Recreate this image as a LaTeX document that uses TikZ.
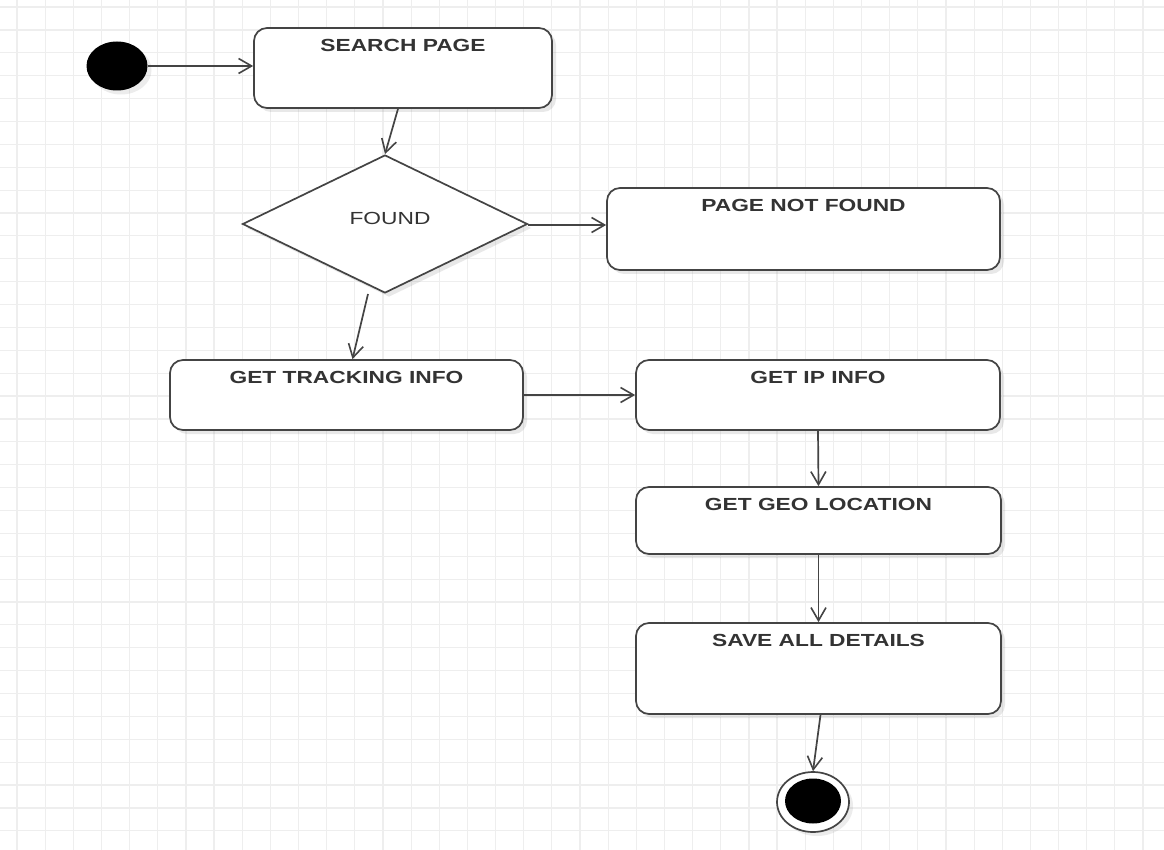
\documentclass[tikz,border=0pt]{standalone}
\usepackage{fontspec}
\newfontfamily\lbfont[FakeStretch=1.3]{Liberation Sans}
\usetikzlibrary{shapes.geometric,arrows.meta,shadows}
\definecolor{gridc}{HTML}{EEEEEE}
\definecolor{linec}{HTML}{444444}
\definecolor{textc}{HTML}{333333}
\begin{document}
\begin{tikzpicture}[x=1pt,y=-1pt,
  gridline/.style={draw=gridc,line width=1.2pt},
  conn/.style={draw=linec,line width=1.7pt,-{Straight Barb[length=13pt,width=15pt,line width=1.6pt]}},
  shad/.style={drop shadow={shadow xshift=4pt,shadow yshift=-4pt,opacity=0.18,fill=gray}},
  actbox/.style={draw=linec,line width=1.7pt,fill=white,rounded corners=13pt,inner sep=0pt,shad},
  acttext/.style={anchor=north,inner sep=0pt,text=textc,font=\lbfont\fontsize{17.5}{20}\selectfont\bfseries,yshift=-12pt},
  decision/.style={diamond,draw=linec,line width=1.7pt,fill=white,inner sep=0pt,shad},
  starts/.style={ellipse,fill=black,inner sep=0pt,minimum width=61pt,minimum height=49pt,drop shadow={shadow xshift=4pt,shadow yshift=-4pt,opacity=0.15,fill=gray}},
]
\useasboundingbox (0,0) rectangle (1164,850);
\fill[white] (0,0) rectangle (1164,850);
\foreach \i in {0,...,41} \draw[gridline] (17+\i*28.15,0) -- (17+\i*28.15,850);
\foreach \j in {0,...,37} \draw[gridline] (0,7.1+\j*22.88) -- (1164,7.1+\j*22.88);

% nodes
\node[starts] (start) at (117,66) {};
\node[actbox,minimum width=298pt,minimum height=80pt,label={[acttext]north:SEARCH PAGE}] (sp) at (403,68) {};
\node[decision,minimum width=285pt,minimum height=138pt,
  label={[inner sep=0pt,text=textc,font=\lbfont\fontsize{17.5}{20}\selectfont,xshift=5pt,yshift=6pt]center:FOUND}] (dia) at (385,224) {};
\node[actbox,minimum width=393pt,minimum height=82pt,label={[acttext]north:PAGE NOT FOUND}] (pnf) at (803.5,229) {};
\node[actbox,minimum width=353pt,minimum height=70pt,label={[acttext]north:GET TRACKING INFO}] (gti) at (346.5,395) {};
\node[actbox,minimum width=364pt,minimum height=70pt,label={[acttext]north:GET IP INFO}] (gip) at (818,395) {};
\node[actbox,minimum width=365pt,minimum height=67pt,label={[acttext]north:GET GEO LOCATION}] (geo) at (818.5,520.5) {};
\node[actbox,minimum width=365pt,minimum height=91pt,label={[acttext]north:SAVE ALL DETAILS}] (sav) at (818.5,668.5) {};
\node[ellipse,draw=linec,line width=1.7pt,fill=white,minimum width=72pt,minimum height=60pt,inner sep=0pt,
  drop shadow={shadow xshift=4pt,shadow yshift=-4pt,opacity=0.15,fill=gray}] (endo) at (813,802) {};
\node[ellipse,fill=black,minimum width=56pt,minimum height=45pt,inner sep=0pt] (endi) at (813,801) {};

% connectors
\coordinate (dbot) at (368,294);
\draw[conn] (start.east) -- (start.east -| sp.west);
\draw[conn] ([xshift=-5pt]sp.south) -- (dia.north);
\draw[conn] ([yshift=-1pt]dia.east) -- ([yshift=-1pt]dia.east -| pnf.west);
\draw[conn] (dbot) -- ([xshift=6pt]gti.north);
\draw[conn] (gti.east) -- (gip.west);
\draw[conn] (gip.south) -- (geo.north);
\draw[conn] (geo.south) -- (sav.north);
\draw[conn] ([xshift=2pt]sav.south) -- (endo.north);
\end{tikzpicture}
\end{document}
